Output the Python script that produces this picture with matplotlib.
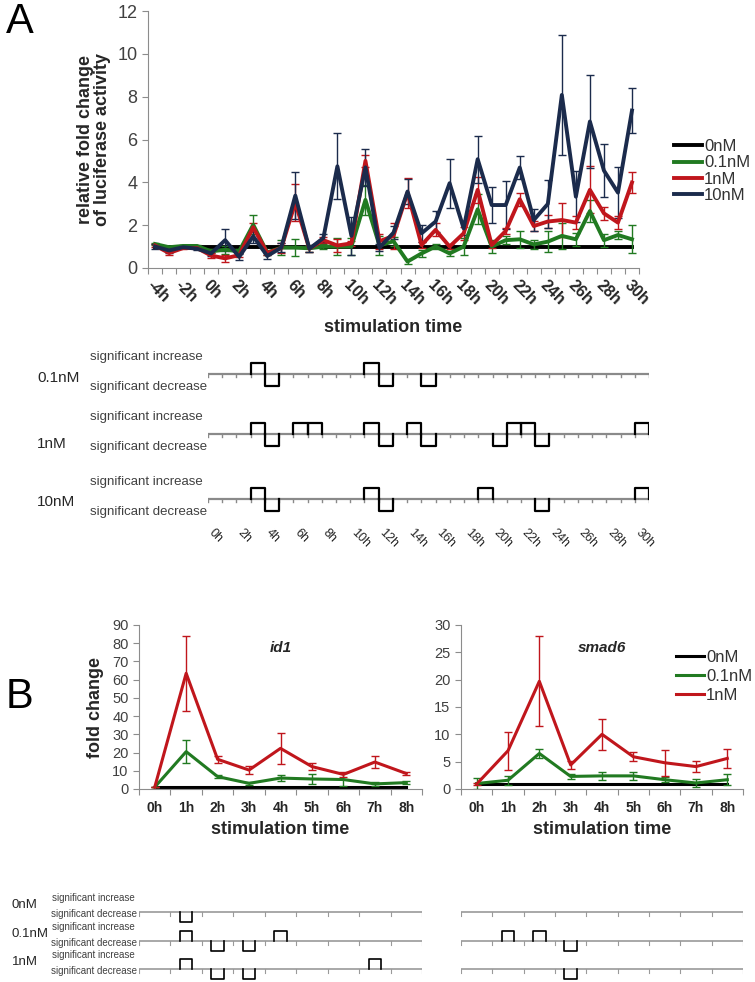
import numpy as np
import matplotlib.pyplot as plt

plt.rcParams['font.family'] = ['Liberation Sans', 'DejaVu Sans']

W, H = 755, 982

def box(x0, y0, x1, y1):
    return [x0 / W, 1 - y1 / H, (x1 - x0) / W, (y1 - y0) / H]

def fx(x):
    return x / W

def fy(y):
    return 1 - y / H

# ---- data, panel A ----
hours_A = ['-4h', '-3h', '-2h', '-1h', '0h', '1h', '2h', '3h', '4h', '5h', '6h', '7h',
           '8h', '9h', '10h', '11h', '12h', '13h', '14h', '15h', '16h', '17h', '18h',
           '19h', '20h', '21h', '22h', '23h', '24h', '25h', '26h', '27h', '28h', '29h', '30h']
ticklabels_A = ['-4h', '-2h', '0h', '2h', '4h', '6h', '8h', '10h', '12h', '14h', '16h',
                '18h', '20h', '22h', '24h', '26h', '28h', '30h']

nm0_A = [1.0, 1.0, 1.0, 1.0, 1.0, 1.0, 1.0, 1.0, 1.0, 1.0, 1.0, 1.0, 1.0, 1.0, 1.0, 1.0, 1.0, 1.0,
         1.0, 1.0, 1.0, 1.0, 1.0, 1.0, 1.0, 1.0, 1.0, 1.0, 1.0, 1.0, 1.0, 1.0, 1.0, 1.0, 1.0]
nm01_A = [1.12, 0.97, 1.03, 1.03, 0.78, 0.85, 0.78, 2.02, 0.72, 0.95, 0.95, 0.92, 1.0, 1.0, 1.0,
          3.18, 1.05, 1.25, 0.3, 0.68, 1.0, 0.68, 1.0, 2.74, 1.0, 1.3, 1.34, 1.1, 1.23, 1.5,
          1.34, 2.66, 1.3, 1.54, 1.34]
nm01_A_err = [0.05, 0.05, 0.05, 0.05, 0.1, 0.2, 0.1, 0.45, 0.1, 0.35, 0.4, 0.15, 0.1, 0.4, 0.4,
              0.7, 0.45, 0.2, 0.1, 0.15, 0.1, 0.1, 0.4, 0.7, 0.3, 0.2, 0.4, 0.2, 0.5, 0.6, 0.3,
              0.5, 0.3, 0.2, 0.65]
nm1_A = [1.05, 0.7, 0.93, 0.93, 0.58, 0.45, 0.6, 1.9, 0.7, 0.93, 3.05, 0.9, 1.3, 1.05, 1.15,
         5.0, 1.25, 1.5, 3.52, 1.07, 1.78, 1.0, 1.62, 3.65, 1.07, 1.73, 3.21, 1.96, 2.17, 2.24,
         2.12, 3.65, 2.55, 2.12, 3.99]
nm1_A_err = [0.05, 0.1, 0.05, 0.05, 0.1, 0.15, 0.1, 0.2, 0.1, 0.25, 0.85, 0.15, 0.15, 0.3, 0.1,
             0.28, 0.35, 0.6, 0.7, 0.15, 0.3, 0.1, 0.3, 0.6, 0.15, 0.15, 0.3, 0.25, 0.3, 0.8,
             0.3, 1.1, 0.3, 0.3, 0.5]
nm10_A = [1.0, 0.82, 0.97, 0.9, 0.68, 1.3, 0.52, 1.48, 0.56, 0.95, 3.38, 0.9, 1.4, 4.75, 1.5,
          4.7, 0.95, 1.65, 3.57, 1.62, 2.17, 3.96, 1.85, 5.08, 2.94, 2.94, 4.69, 2.24, 2.99,
          8.08, 3.33, 6.84, 4.55, 3.52, 7.35]
nm10_A_err = [0.1, 0.1, 0.05, 0.05, 0.1, 0.5, 0.15, 0.3, 0.15, 0.2, 1.1, 0.15, 0.2, 1.55, 0.9,
              0.85, 0.15, 0.3, 0.6, 0.4, 0.5, 1.15, 0.3, 1.1, 0.85, 1.1, 0.55, 0.5, 1.1, 2.8,
              1.2, 2.15, 1.25, 1.2, 1.05]

# significance, panel A (hours after stimulation)
sig_hours_A = ['0h', '2h', '4h', '6h', '8h', '10h', '12h', '14h', '16h', '18h', '20h', '22h',
               '24h', '26h', '28h', '30h']
sig_inc_01 = [3, 11]
sig_dec_01 = [4, 12, 15]
sig_inc_1 = [3, 6, 7, 11, 14, 21, 22, 30]
sig_dec_1 = [4, 12, 15, 20, 23]
sig_inc_10 = [3, 11, 19, 30]
sig_dec_10 = [4, 12, 23]

# ---- data, panel B ----
hours_B = ['0h', '1h', '2h', '3h', '4h', '5h', '6h', '7h', '8h']
id1_0 = [1, 1, 1, 1, 1, 1, 1, 1, 1]
id1_01 = [1.0, 20.5, 6.8, 3.1, 6.0, 5.5, 5.2, 2.8, 3.5]
id1_01_err = [0, 6.3, 1.0, 1.0, 1.5, 3.0, 3.5, 1.0, 0.8]
id1_1 = [1.0, 63.5, 16.3, 10.4, 22.3, 12.3, 8.0, 14.8, 8.5]
id1_1_err = [0, 20.5, 2.0, 2.0, 8.5, 2.0, 1.5, 3.5, 1.0]

smad6_0 = [1, 1, 1, 1, 1, 1, 1, 1, 1]
smad6_01 = [1.0, 1.6, 6.5, 2.3, 2.4, 2.4, 1.7, 1.1, 1.7]
smad6_01_err = [1.0, 0.8, 0.8, 0.5, 0.8, 0.8, 0.5, 0.8, 1.0]
smad6_1 = [0.9, 7.0, 19.7, 4.4, 10.0, 5.9, 4.8, 4.1, 5.6]
smad6_1_err = [0.2, 3.5, 8.2, 0.8, 2.8, 0.8, 2.4, 1.0, 1.8]

id1_sig = {'0nM': ([], [1]), '0.1nM': ([1, 4], [2, 3]), '1nM': ([1, 7], [2, 3])}
smad6_sig = {'0nM': ([], []), '0.1nM': ([1, 2], [3]), '1nM': ([], [3])}

c_black = '#000000'
c_green = '#217a21'
c_red = '#c0161c'
c_navy = '#1b2b4c'
c_axis = '#8c8c8c'
c_text = '#262626'

fig = plt.figure(figsize=(7.55, 9.82), dpi=100)

# ================= Panel A, line chart =================
ax = fig.add_axes(box(148, 11, 639, 268))
xa = np.arange(len(hours_A))
handles_A = ax.plot(xa, nm0_A, color=c_black, lw=2.8, label='0nM')
for vals, errs, col, lab in [(nm01_A, nm01_A_err, c_green, '0.1nM'),
                             (nm1_A, nm1_A_err, c_red, '1nM'),
                             (nm10_A, nm10_A_err, c_navy, '10nM')]:
    eb = ax.errorbar(xa, vals, yerr=errs, color=col, lw=2.8, elinewidth=1, capsize=3,
                     capthick=1)
    eb[0].set_label(lab)
    handles_A.append(eb[0])
ax.set_xlim(-0.5, len(hours_A) - 0.5)
ax.set_ylim(0, 12)
ax.set_yticks(range(0, 13, 2))
ax.tick_params(axis='y', labelsize=13, colors=c_axis, labelcolor='#404040', length=4)
ax.set_xticks(np.arange(-0.5, len(hours_A), 1))
ax.set_xticklabels([])
ax.set_xticks(xa[::2], minor=True)
ax.set_xticklabels(ticklabels_A, minor=True, rotation=-45, ha='left', va='top',
                   rotation_mode='anchor', fontweight='bold', fontsize=11.5, color=c_text)
ax.tick_params(axis='x', which='major', length=4, colors=c_axis)
ax.tick_params(axis='x', which='minor', length=0, pad=7)
for s in ['top', 'right']:
    ax.spines[s].set_visible(False)
for s in ['left', 'bottom']:
    ax.spines[s].set_color(c_axis)

ax.legend(handles=handles_A, loc='upper left', bbox_to_anchor=(fx(674), fy(139)),
          bbox_transform=fig.transFigure, frameon=False,
          fontsize=12, handlelength=1.7, handletextpad=0.1, labelspacing=0.08,
          borderpad=0, borderaxespad=0, labelcolor='#333333')

fig.text(fx(393), fy(327), 'stimulation time', ha='center', va='center',
         fontsize=13, fontweight='bold', color=c_text)
fig.text(fx(94), fy(140), 'relative fold change\nof luciferase activity', rotation=90,
         ha='center', va='center', fontsize=13, fontweight='bold', color=c_text,
         linespacing=1.0)
fig.text(fx(6), fy(22), 'A', fontsize=30, va='center', ha='left')

# ================= Panel A, significance =================
sa = fig.add_axes(box(208, 340, 649, 560))
sa.set_xlim(0, 31)
sa.set_ylim(560, 340)
sa.axis('off')
rows_A = [('0.1nM', sig_inc_01, sig_dec_01, 374, 378),
          ('1nM', sig_inc_1, sig_dec_1, 434, 444),
          ('10nM', sig_inc_10, sig_dec_10, 499, 502)]
ncat = 31
for name, inc, dec, b, ly in rows_A:
    sa.plot([0, ncat], [b, b], color='#8a8a8a', lw=1.6, solid_capstyle='butt')
    for k in range(ncat + 1):
        sa.plot([k, k], [b, b + 3], color='#8a8a8a', lw=1)
    for c in inc:
        sa.plot([c, c, c + 1, c + 1], [b, b - 11, b - 11, b], color='black', lw=1.6)
    for c in dec:
        sa.plot([c, c, c + 1, c + 1], [b, b + 12, b + 12, b], color='black', lw=1.6)
    fig.text(fx(203), fy(b - 17), 'significant increase', ha='right', va='center',
             fontsize=9.5, color='#404040')
    fig.text(fx(207), fy(b + 13), 'significant decrease', ha='right', va='center',
             fontsize=9.5, color='#404040')
    fig.text(fx(37), fy(ly), name, ha='left', va='center', fontsize=11, color=c_text)
for i, lab in enumerate(sig_hours_A):
    sa.text(2 * i + 0.5, 527, lab, rotation=-45, ha='left', va='top',
            rotation_mode='anchor', fontsize=9, color=c_text)

# ================= Panel B, line charts =================
xb = np.arange(len(hours_B))

def panel_b(rect, s0, s01, e01, s1, e1, ymax, ystep, title):
    a = fig.add_axes(rect)
    hs = a.plot(xb, s0, color=c_black, lw=2.2, label='0nM')
    for vals, errs, col, lab in [(s01, e01, c_green, '0.1nM'), (s1, e1, c_red, '1nM')]:
        eb = a.errorbar(xb, vals, yerr=errs, color=col, lw=2.2, elinewidth=1, capsize=3,
                        capthick=1)
        eb[0].set_label(lab)
        hs.append(eb[0])
    a.set_xlim(-0.5, len(hours_B) - 0.5)
    a.set_ylim(0, ymax)
    a.set_yticks(range(0, ymax + 1, ystep))
    a.tick_params(axis='y', labelsize=10.5, colors=c_axis, labelcolor='#404040', length=4)
    a.set_xticks(np.arange(-0.5, len(hours_B), 1))
    a.set_xticklabels([])
    a.set_xticks(xb, minor=True)
    a.set_xticklabels(hours_B, minor=True, fontweight='bold', fontsize=10, color=c_text)
    a.tick_params(axis='x', which='major', length=4, colors=c_axis)
    a.tick_params(axis='x', which='minor', length=0, pad=9)
    for s in ['top', 'right']:
        a.spines[s].set_visible(False)
    for s in ['left', 'bottom']:
        a.spines[s].set_color(c_axis)
    a.set_xlabel('stimulation time', fontsize=13, fontweight='bold', color=c_text,
                 labelpad=4)
    a.text(0.5, 0.86, title, transform=a.transAxes, ha='center', va='center',
           fontsize=11, fontweight='bold', style='italic', color=c_text)
    return a, hs

axl, _ = panel_b(box(139, 625, 422, 789), id1_0, id1_01, id1_01_err, id1_1, id1_1_err,
                 90, 10, 'id1')
axl.set_ylabel('fold change', fontsize=13, fontweight='bold', color=c_text, labelpad=6)
axr, handles_B = panel_b(box(461, 625, 743, 789), smad6_0, smad6_01, smad6_01_err,
                         smad6_1, smad6_1_err, 30, 5, 'smad6')
axr.legend(handles=handles_B, loc='upper left', bbox_to_anchor=(fx(676), fy(650)),
           bbox_transform=fig.transFigure, frameon=False,
           fontsize=12, handlelength=1.7, handletextpad=0.1, labelspacing=0.25,
           borderpad=0, borderaxespad=0, labelcolor='#333333')
fig.text(fx(6), fy(697), 'B', fontsize=30, va='center', ha='left')

# ================= Panel B, significance =================
rows_B = [('0nM', 912), ('0.1nM', 941), ('1nM', 969)]
for rect, sig, with_text in [(box(139, 885, 422, 982), id1_sig, True),
                             (box(461, 885, 743, 982), smad6_sig, False)]:
    s = fig.add_axes(rect)
    s.set_xlim(-0.5, len(hours_B) - 0.5)
    s.set_ylim(982, 885)
    s.axis('off')
    for name, b in rows_B:
        inc, dec = sig[name]
        s.plot([-0.5, len(hours_B) - 0.5], [b, b], color='#9a9a9a', lw=1.2)
        for k in range(len(hours_B) + 1):
            s.plot([k - 0.5, k - 0.5], [b, b + 4], color='#9a9a9a', lw=0.8)
        for c in inc:
            s.plot([c - 0.2, c - 0.2, c + 0.2, c + 0.2], [b, b - 10, b - 10, b],
                   color='black', lw=1.2)
        for c in dec:
            s.plot([c - 0.2, c - 0.2, c + 0.2, c + 0.2], [b, b + 10, b + 10, b],
                   color='black', lw=1.2)
        if with_text:
            fig.text(fx(135), fy(b - 14), 'significant increase', ha='right',
                     va='center', fontsize=7, color='#404040')
            fig.text(fx(137), fy(b + 2), 'significant decrease', ha='right',
                     va='center', fontsize=7, color='#404040')
            fig.text(fx(12), fy(b - 7), name, ha='left', va='center', fontsize=9.5,
                     color=c_text)

fig.savefig('out.png', dpi=100)
